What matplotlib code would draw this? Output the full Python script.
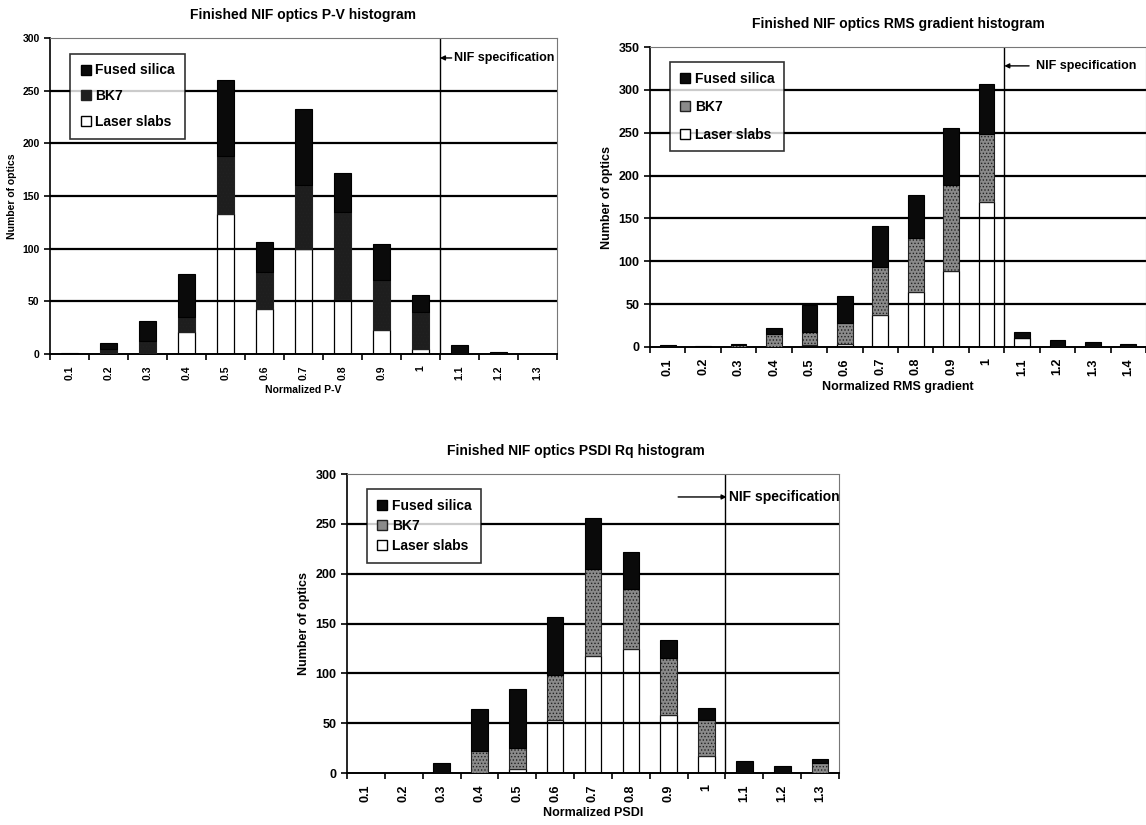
import matplotlib
matplotlib.use('Agg')
import matplotlib.pyplot as plt
from matplotlib.lines import Line2D
import numpy as np

plt.rcParams['font.family'] = ['Liberation Sans', 'DejaVu Sans']
plt.rcParams['font.weight'] = 'bold'
plt.rcParams['hatch.linewidth'] = 0.6

# P-V histogram
pv_cats = ['0.1', '0.2', '0.3', '0.4', '0.5', '0.6', '0.7', '0.8', '0.9', '1', '1.1', '1.2', '1.3']
pv_laser = [0, 0, 0, 21, 133, 43, 100, 52, 23, 5, 0, 0, 0]
pv_bk7 = [0, 5, 12, 14, 55, 35, 60, 83, 47, 35, 0, 0, 0]
pv_fused = [1, 5, 19, 41, 72, 28, 73, 37, 34, 16, 8, 2, 0]

# RMS gradient histogram
rms_cats = ['0.1', '0.2', '0.3', '0.4', '0.5', '0.6', '0.7', '0.8', '0.9', '1', '1.1', '1.2', '1.3', '1.4']
rms_laser = [0, 0, 0, 0, 2, 3, 37, 64, 89, 169, 11, 0, 0, 0]
rms_bk7 = [0, 0, 2, 15, 16, 25, 56, 63, 100, 80, 0, 0, 0, 0]
rms_fused = [2, 1, 2, 7, 31, 31, 48, 50, 66, 58, 6, 8, 6, 3]

# PSDI Rq histogram
psdi_cats = ['0.1', '0.2', '0.3', '0.4', '0.5', '0.6', '0.7', '0.8', '0.9', '1', '1.1', '1.2', '1.3']
psdi_laser = [0, 0, 0, 0, 4, 53, 117, 124, 58, 17, 0, 0, 0]
psdi_bk7 = [0, 0, 0, 22, 21, 45, 88, 61, 57, 36, 0, 0, 10]
psdi_fused = [0, 0, 10, 42, 59, 59, 51, 37, 18, 12, 12, 7, 4]

series_names = ['Fused silica', 'BK7', 'Laser slabs']


def panel(ax, cats, laser, bk7, fused, ymax, title, xlabel, fs, bk7_color,
          spec_y, spec_text_x, spec_arrow_x, spec_fs, leg_fs, leg_space,
          title_x=0.5):
    x = np.arange(len(cats))
    w = 0.44
    laser = np.array(laser)
    bk7 = np.array(bk7)
    fused = np.array(fused)

    # gridlines run over the white laser-slab segments, as in the original
    for y in np.arange(50, ymax, 50):
        ax.axhline(y, color='black', lw=1.6, zorder=2.5)
    ax.axvline(9.5, color='black', lw=1.0, zorder=2.5)

    ax.bar(x, laser, w, color='white', edgecolor='black', lw=0.9, zorder=2)
    ax.bar(x, bk7, w, bottom=laser, color=bk7_color, edgecolor='#222222',
           hatch='.....', lw=0.8, zorder=3)
    ax.bar(x, fused, w, bottom=laser + bk7, color='#0a0a0a', edgecolor='black',
           lw=0.8, zorder=3)

    ax.set_xlim(-0.5, len(cats) - 0.5)
    ax.set_ylim(0, ymax)
    ax.set_yticks(np.arange(0, ymax + 1, 50))
    ax.set_xticks(x)
    ax.set_xticklabels(cats, rotation=90, fontsize=fs, fontweight='bold')
    ax.set_xticks(np.arange(-0.5, len(cats), 1), minor=True)
    ax.tick_params(axis='x', which='major', length=0, pad=8)
    ax.tick_params(axis='x', which='minor', length=4, width=1.2, direction='out')
    ax.tick_params(axis='y', length=4, width=1.2, labelsize=fs)
    for t in ax.get_yticklabels():
        t.set_fontweight('bold')

    ax.set_title(title, fontsize=10, fontweight='bold', pad=14, x=title_x)
    ax.set_xlabel(xlabel, fontsize=fs, fontweight='bold')
    ax.set_ylabel('Number of optics', fontsize=fs, fontweight='bold')

    ax.spines['left'].set_linewidth(1.2)
    ax.spines['bottom'].set_linewidth(1.4)
    for s in ['top', 'right']:
        ax.spines[s].set_color('#777777')
        ax.spines[s].set_linestyle((0, (1, 1)))
        ax.spines[s].set_linewidth(0.8)

    tip = 9.5 if spec_arrow_x > 9.5 else 9.53
    ax.annotate('', xy=(tip, spec_y), xytext=(spec_arrow_x, spec_y),
                arrowprops=dict(arrowstyle='-|>', color='black', lw=1.0,
                                shrinkA=0, shrinkB=0, mutation_scale=7))
    ax.text(spec_text_x, spec_y, 'NIF specification', fontsize=spec_fs,
            fontweight='bold', va='center', ha='left', zorder=5)

    handles = [
        Line2D([], [], ls='', marker='s', markersize=7, markerfacecolor='#0a0a0a',
               markeredgecolor='black'),
        Line2D([], [], ls='', marker='s', markersize=7, markerfacecolor=bk7_color,
               markeredgecolor='#222222'),
        Line2D([], [], ls='', marker='s', markersize=7, markerfacecolor='white',
               markeredgecolor='black'),
    ]
    leg = ax.legend(handles, series_names, loc='upper left',
                    bbox_to_anchor=(0.04, 0.95),
                    prop={'weight': 'bold', 'size': leg_fs},
                    frameon=True, fancybox=False, edgecolor='black',
                    labelspacing=leg_space, handlelength=0.8, handletextpad=0.3,
                    borderpad=0.7, borderaxespad=0)
    leg.get_frame().set_linewidth(1.2)
    leg.set_zorder(6)


fig = plt.figure(figsize=(11.46, 8.25), dpi=100)

ax1 = fig.add_axes([0.0436, 0.571, 0.4424, 0.383])
panel(ax1, pv_cats, pv_laser, pv_bk7, pv_fused, 300,
      'Finished NIF optics P-V histogram', 'Normalized P-V', 7.5, '#1e1e1e',
      281, 9.85, 9.8, 9, 10, 0.85)

ax2 = fig.add_axes([0.5672, 0.5794, 0.4328, 0.3636])
panel(ax2, rms_cats, rms_laser, rms_bk7, rms_fused, 350,
      'Finished NIF optics RMS gradient histogram', 'Normalized RMS gradient', 9,
      '#8a8a8a', 328, 10.4, 10.2, 9, 10, 1.0)

ax3 = fig.add_axes([0.3028, 0.063, 0.4293, 0.3624])
panel(ax3, psdi_cats, psdi_laser, psdi_bk7, psdi_fused, 300,
      'Finished NIF optics PSDI Rq histogram', 'Normalized PSDI', 9,
      '#8a8a8a', 277, 9.6, 8.25, 10, 10, 0.45, title_x=0.465)

fig.savefig('out.png', dpi=100)
